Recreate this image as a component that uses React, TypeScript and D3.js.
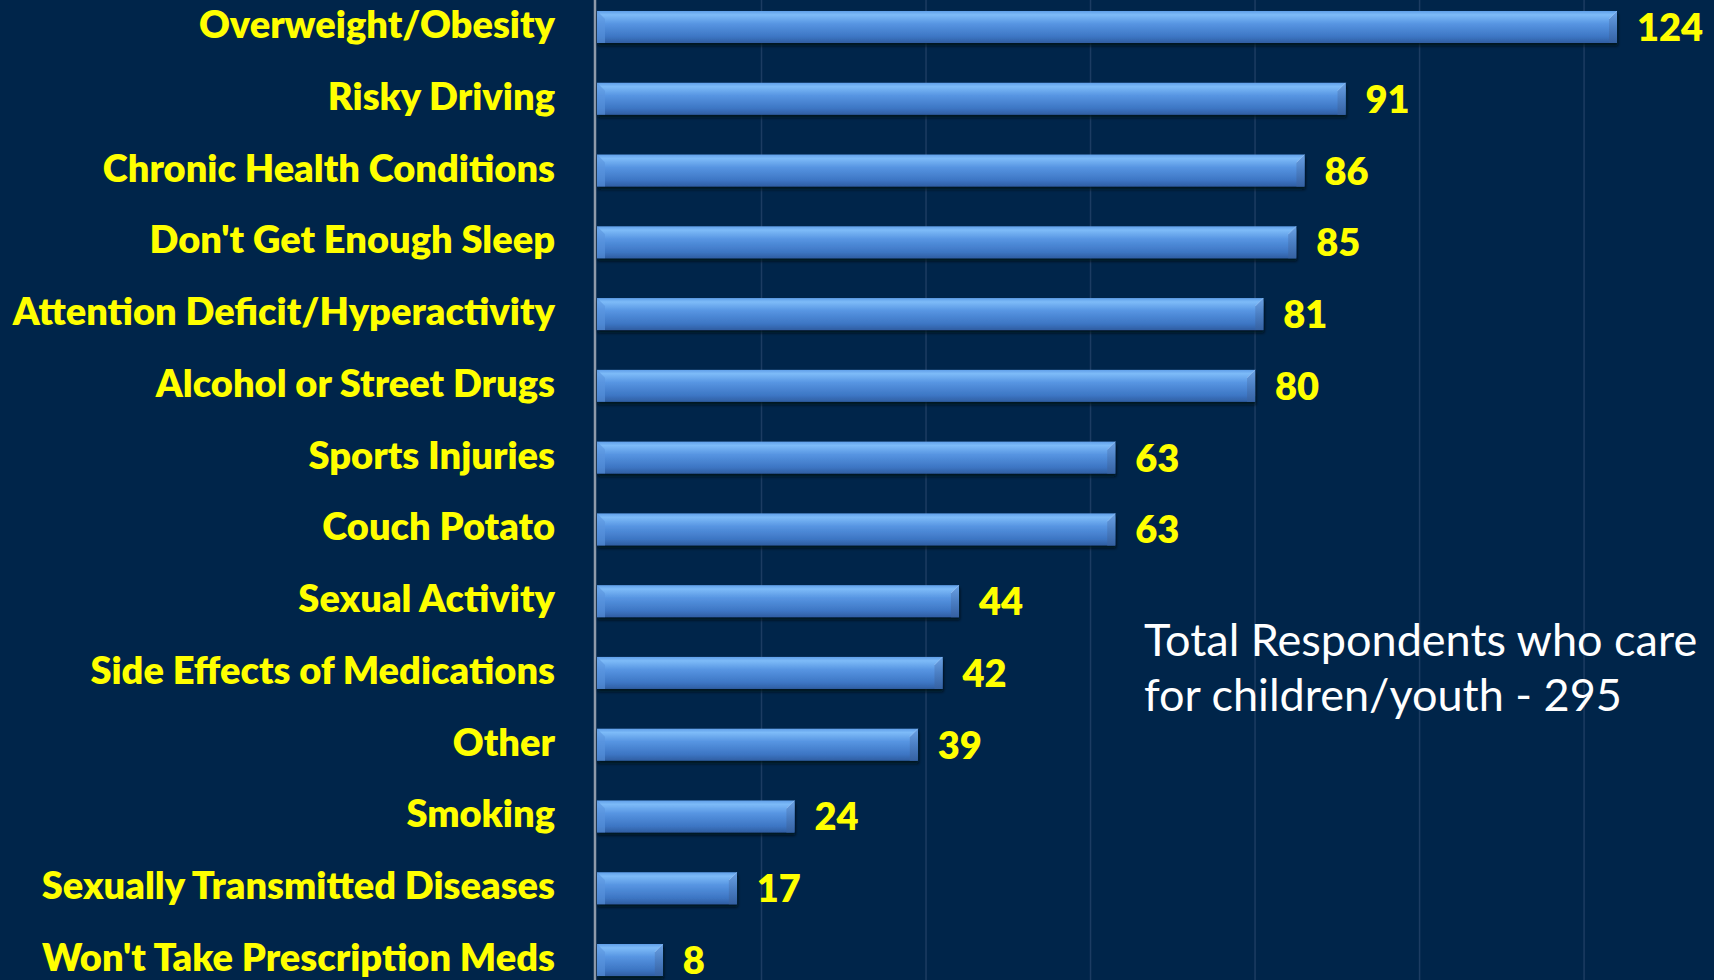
import React from "react";
import * as d3 from "d3";

const categories = [
  "Overweight/Obesity",
  "Risky Driving",
  "Chronic Health Conditions",
  "Don't Get Enough Sleep",
  "Attention Deficit/Hyperactivity",
  "Alcohol or Street Drugs",
  "Sports Injuries",
  "Couch Potato",
  "Sexual Activity",
  "Side Effects of Medications",
  "Other",
  "Smoking",
  "Sexually Transmitted Diseases",
  "Won't Take Prescription Meds",
];
const values = [124, 91, 86, 85, 81, 80, 63, 63, 44, 42, 39, 24, 17, 8];
const gridTicks = [20, 40, 60, 80, 100, 120, 140];
const noteLines = ["Total Respondents who care", "for children/youth - 295"];

const W = 1714;
const H = 980;

export default function App() {
  const x = d3.scaleLinear().domain([0, 140]).range([597, 1748.6]);
  const y = d3
    .scaleBand<string>()
    .domain(categories)
    .range([-8.9, 995.9])
    .paddingInner(0.554)
    .paddingOuter(0.277);
  const bw = y.bandwidth();
  const bev = 8;
  const font = "Lato, 'Open Sans', sans-serif";

  return (
    <svg
      width={W}
      height={H}
      style={{ position: "absolute", left: 0, top: 0, display: "block" }}
    >
      <defs>
        <linearGradient id="barGrad" x1="0" y1="0" x2="0" y2="1">
          <stop offset="0%" stopColor="#609fe9" />
          <stop offset="12%" stopColor="#7dbbf8" />
          <stop offset="40%" stopColor="#5795e2" />
          <stop offset="80%" stopColor="#3d76c4" />
          <stop offset="100%" stopColor="#2f5ea2" />
        </linearGradient>
        <linearGradient id="capGrad" x1="0" y1="0" x2="0" y2="1">
          <stop offset="0%" stopColor="#6ca2e4" />
          <stop offset="50%" stopColor="#4b7fc4" />
          <stop offset="100%" stopColor="#3561a2" />
        </linearGradient>
        <filter id="shadow" x="-5%" y="-30%" width="110%" height="170%">
          <feDropShadow dx="1" dy="3" stdDeviation="1.6" floodColor="#000814" floodOpacity="0.75" />
        </filter>
      </defs>
      <rect x={0} y={0} width={W} height={H} fill="#00254a" />
      {gridTicks.map((t) => (
        <line key={t} x1={x(t)} x2={x(t)} y1={0} y2={H} stroke="#1c3c62" strokeWidth={1.5} />
      ))}
      <line x1={595} x2={595} y1={0} y2={H} stroke="#8e9aaa" strokeWidth={2.5} />
      {categories.map((c, i) => {
        const y0 = y(c)!;
        const y1 = y0 + bw;
        const x0 = x(0);
        const x1 = x(values[i]);
        const cy = y0 + bw / 2;
        return (
          <g key={c}>
            <g filter="url(#shadow)">
              <rect x={x0} y={y0} width={x1 - x0} height={bw} fill="url(#barGrad)" />
            </g>
            <polygon
              points={`${x0},${y0} ${x0 + bev},${y0 + bev} ${x0 + bev},${y1} ${x0},${y1}`}
              fill="#5a95de"
              opacity={0.6}
            />
            <polygon
              points={`${x1 - bev},${y0 + bev} ${x1},${y0} ${x1},${y1} ${x1 - bev},${y1}`}
              fill="url(#capGrad)"
            />
            <line x1={x1 - bev} y1={y0 + bev} x2={x1} y2={y0} stroke="#9cc6f5" strokeWidth={1} opacity={0.6} />
            <text
              x={555}
              y={cy + 11}
              textAnchor="end"
              fill="#ffff00"
              fontFamily={font}
              fontWeight={800}
              fontSize={38}
            >
              {c}
            </text>
            <text
              x={x1 + 20}
              y={cy + 14}
              fill="#ffff00"
              fontFamily={font}
              fontWeight={800}
              fontSize={38}
            >
              {values[i]}
            </text>
          </g>
        );
      })}
      {noteLines.map((l, i) => (
        <text
          key={i}
          x={1144}
          y={656 + i * 55}
          fill="#ffffff"
          fontFamily={font}
          fontWeight={400}
          fontSize={45}
        >
          {l}
        </text>
      ))}
    </svg>
  );
}
